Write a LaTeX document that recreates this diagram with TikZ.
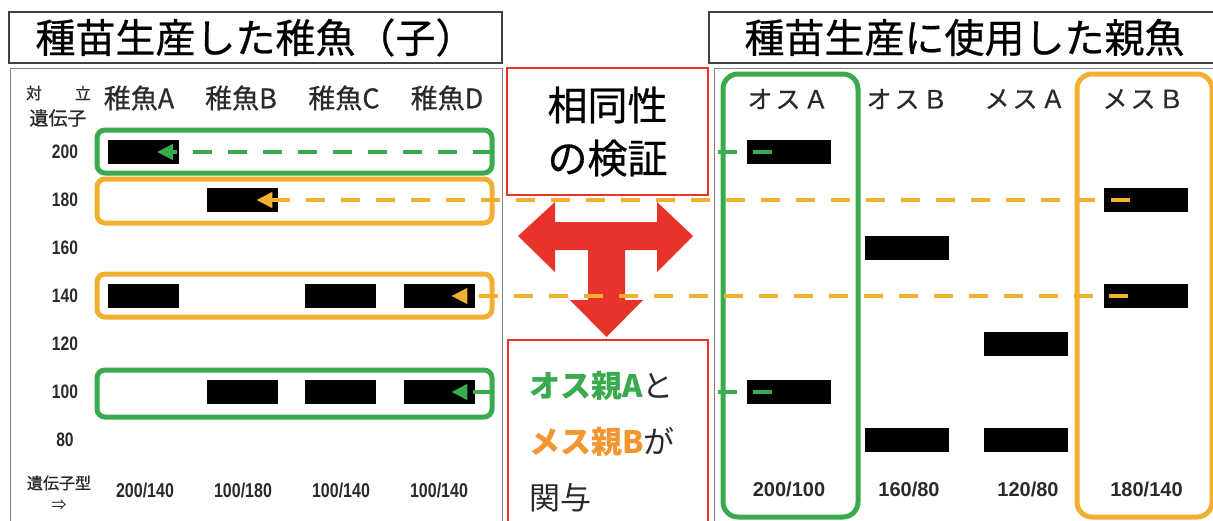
\documentclass[tikz,border=0pt]{standalone}
\usepackage{fontspec}
\usetikzlibrary{arrows.meta}
\setmainfont{Noto Sans CJK JP}
\newfontfamily\jp{Noto Sans CJK JP}
\newfontfamily\jpm[FakeBold=0.6]{Noto Sans CJK JP}
\newfontfamily\numn[FakeStretch=0.8]{Liberation Sans}
\newfontfamily\numw{Liberation Sans}
\definecolor{gr}{HTML}{3AAA4F}
\definecolor{og}{HTML}{F2B033}
\definecolor{rd}{HTML}{E8332B}
\definecolor{tog}{HTML}{F3962F}
\definecolor{txt}{HTML}{2A2A2A}
\begin{document}
\begin{tikzpicture}[x=1pt,y=-1pt,
  bar/.style={fill=black, minimum width=71pt, minimum height=24pt, inner sep=0pt},
  rbar/.style={bar, minimum width=84pt},
  titlebox/.style={draw=black!75, line width=1.5pt, inner sep=0pt, text=black, font=\jpm\fontsize{40}{40}\selectfont},
  panel/.style={draw=black!50, line width=1pt, inner sep=0pt},
  gbox/.style={draw=gr, line width=5pt, rounded corners=8pt, inner sep=0pt},
  obox/.style={draw=og, line width=5pt, rounded corners=8pt, inner sep=0pt},
  gline/.style={draw=gr, line width=4.5pt, dash pattern=on 19pt off 16pt, -{Triangle[length=16pt,width=15pt]}},
  oline/.style={draw=og, line width=4.5pt, dash pattern=on 19pt off 16pt, -{Triangle[length=16pt,width=15pt]}},
  rowlab/.style={font=\numn\bfseries\fontsize{19.5}{20}\selectfont, text=txt, inner sep=0pt},
  gtl/.style={font=\numn\bfseries\fontsize{20}{20}\selectfont, text=txt, inner sep=0pt},
  gtr/.style={font=\numw\bfseries\fontsize{20}{20}\selectfont, text=txt, inner sep=0pt},
  colhead/.style={font=\jpm\fontsize{27}{27}\selectfont, text=txt, inner sep=0pt},
  rhead/.style={font=\jpm\fontsize{25}{25}\selectfont, text=txt, inner sep=0pt},
  redbox/.style={draw=rd, line width=2pt, fill=white, inner sep=0pt},
  arr/.style={fill=rd, draw=none}
]
\clip (0,0) rectangle (1213,520);
\fill[white] (0,0) rectangle (1213,520);

% titles
\node[titlebox, minimum width=493pt, minimum height=51pt] (ltitle) at (255.5,37.5) {種苗生産した稚魚（子）};
\node[titlebox, minimum width=511pt, minimum height=51pt] (rtitle) at (964.5,37.5) {種苗生産に使用した親魚};

% panels
\node[panel, minimum width=492pt, minimum height=460pt] (lpanel) at (256,298) {};
\node[panel, minimum width=511pt, minimum height=460pt] (rpanel) at (969.5,298) {};

% left headers
\node[font=\jpm\fontsize{16}{16}\selectfont, text=txt, inner sep=0pt] (h1) at (34,93) {対};
\node[font=\jpm\fontsize{16}{16}\selectfont, text=txt, inner sep=0pt] (h2) at (83,93) {立};
\node[font=\jpm\fontsize{19}{19}\selectfont, text=txt, inner sep=0pt] (h3) at (58,118) {遺伝子};
\node[colhead] (cA) at (139,98) {稚魚A};
\node[colhead] (cB) at (241,98) {稚魚B};
\node[colhead] (cC) at (344,98) {稚魚C};
\node[colhead] (cD) at (447,98) {稚魚D};

% row labels
\node[rowlab] (l200) at (65,152) {200};
\node[rowlab] (l180) at (65,200) {180};
\node[rowlab] (l160) at (65,248) {160};
\node[rowlab] (l140) at (65,296) {140};
\node[rowlab] (l120) at (65,344) {120};
\node[rowlab] (l100) at (65,392) {100};
\node[rowlab] (l80) at (65,440) {80};

% genotype left
\node[font=\jpm\fontsize{16}{16}\selectfont, text=txt, inner sep=0pt] (gt) at (59,483) {遺伝子型};
\node[font=\jp\fontsize{15}{15}\selectfont, text=txt, inner sep=0pt] (gtarr) at (59,505) {⇒};
\node[gtl] (gA) at (145,490) {200/140};
\node[gtl] (gB) at (243,490) {100/180};
\node[gtl] (gC) at (341,490) {100/140};
\node[gtl] (gD) at (439,490) {100/140};

% left bars
\node[bar] (A200) at (143.5,152) {};
\node[bar] (A140) at (143.5,296) {};
\node[bar] (B180) at (242,200) {};
\node[bar] (B100) at (242,392) {};
\node[bar] (C140) at (340.5,296) {};
\node[bar] (C100) at (340.5,392) {};
\node[bar] (D140) at (439,296) {};
\node[bar] (D100) at (439,392) {};

% left highlight boxes
\node[gbox, minimum width=395pt, minimum height=43pt] (g200) at (294.5,151.5) {};
\node[obox, minimum width=395pt, minimum height=44pt] (o180) at (294.5,201) {};
\node[obox, minimum width=395pt, minimum height=43pt] (o140) at (294.5,295.5) {};
\node[gbox, minimum width=395pt, minimum height=47pt] (g100) at (294.5,393.5) {};

% right headers
\node[rhead] (pA) at (788,99) {オ\hspace{3pt}ス\hspace{3pt}Ａ};
\node[rhead] (pB) at (907,99) {オ\hspace{3pt}ス\hspace{3pt}Ｂ};
\node[rhead] (pC) at (1025,99) {メ\hspace{3pt}ス\hspace{3pt}Ａ};
\node[rhead] (pD) at (1143,99) {メ\hspace{3pt}ス\hspace{3pt}Ｂ};

% right bars
\node[rbar] (oA200) at (789,152) {};
\node[rbar] (oA100) at (789,392) {};
\node[rbar] (oB160) at (907,248) {};
\node[rbar] (oB80) at (907,440) {};
\node[rbar] (mA120) at (1026,344) {};
\node[rbar] (mA80) at (1026,440) {};
\node[rbar] (mB180) at (1145.5,200) {};
\node[rbar] (mB140) at (1145.5,296) {};

% right genotypes
\node[gtr] (rgA) at (789,489) {200/100};
\node[gtr] (rgB) at (909,489) {160/80};
\node[gtr] (rgC) at (1028,489) {120/80};
\node[gtr] (rgD) at (1146.5,489) {180/140};

% right highlight boxes
\node[gbox, rounded corners=15pt, minimum width=135pt, minimum height=443pt] (gA) at (790.5,295.5) {};
\node[obox, rounded corners=15pt, minimum width=135pt, minimum height=443pt] (oD) at (1144.5,295.5) {};

% red arrows
\fill[arr] (518,236) -- (555,202) -- (555,222) -- (657,222) -- (657,202) -- (693,236)
  -- (657,272) -- (657,250) -- (625,250) -- (625,300) -- (643,300) -- (606.5,337)
  -- (570,300) -- (588,300) -- (588,250) -- (555,250) -- (555,272) -- cycle;

% dashed connectors
\draw[gline] ([xshift=25pt]oA200.west) -- ([xshift=49pt]A200.west);
\draw[oline] ([xshift=27pt]mB180.west) -- ([xshift=50pt]B180.west);
\draw[oline] ([xshift=25pt]mB140.west) -- ([xshift=48pt]D140.west);
\draw[gline] ([xshift=25pt]oA100.west) -- ([xshift=48pt]D100.west);

% middle boxes
\node[redbox, minimum width=201pt, minimum height=127pt, align=center,
  font=\jpm\fontsize{40}{53}\selectfont, text=black] (verify) at (607.5,131.5) {相同性\\の検証};
\node[redbox, minimum width=200pt, minimum height=190pt] (result) at (608,435) {};
\node[anchor=west, align=left, inner sep=0pt, font=\jp\fontsize{31}{56}\selectfont, text=txt] (restxt) at (529,442)
  {{\color{gr}\bfseries オス親A}と\\{\color{tog}\bfseries メス親B}が\\関与};
\end{tikzpicture}
\end{document}
